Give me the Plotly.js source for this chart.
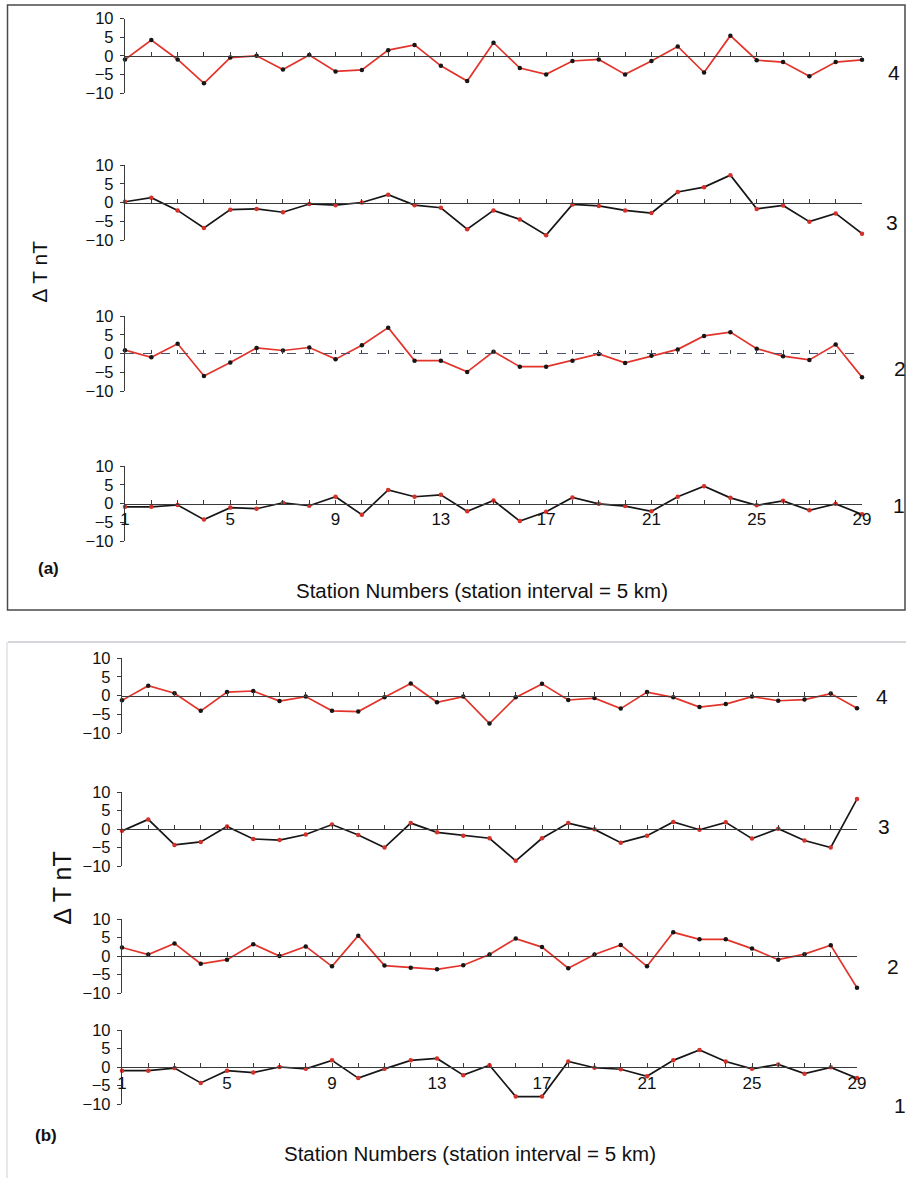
<!DOCTYPE html>
<html>
<head>
<meta charset="utf-8">
<script src="https://cdn.plot.ly/plotly-3.0.1.min.js"></script>
<style>
  html, body { margin: 0; padding: 0; background: #fff; }
  #chart { width: 906px; height: 1178px; }
</style>
</head>
<body>
<div id="chart"></div>
<script>
// Station numbers along each profile (station interval = 5 km)
const stations = [1,2,3,4,5,6,7,8,9,10,11,12,13,14,15,16,17,18,19,20,21,22,23,24,25,26,27,28,29];
const stationLabels = ['1','','','','5','','','','9','','','','13','','','','17','','','','21','','','','25','','','','29'];
const profileNames = ['4', '3', '2', '1'];
const yTicks = [-10, -5, 0, 5, 10];

// Panel (a): magnetic anomaly ΔT (nT) per profile
const a4 = [-1.0, 4.2, -1.0, -7.4, -0.5, 0.0, -3.7, 0.2, -4.2, -3.8, 1.5, 2.9, -2.7, -6.8, 3.5, -3.3, -5.0, -1.4, -1.0, -5.0, -1.4, 2.5, -4.5, 5.4, -1.2, -1.7, -5.5, -1.7, -1.1];
const a3 = [0.2, 1.3, -2.1, -6.8, -1.9, -1.7, -2.6, -0.4, -0.7, 0.0, 2.1, -0.7, -1.4, -7.1, -2.1, -4.5, -8.7, -0.5, -0.9, -2.1, -2.8, 2.8, 4.1, 7.3, -1.7, -0.8, -5.1, -2.9, -8.3];
const a2 = [0.9, -1.0, 2.6, -6.0, -2.4, 1.5, 0.8, 1.6, -1.5, 2.2, 6.9, -1.9, -1.9, -4.9, 0.5, -3.5, -3.5, -1.9, -0.1, -2.5, -0.6, 1.1, 4.7, 5.7, 1.3, -0.7, -1.7, 2.4, -6.3];
const a1 = [-0.9, -0.9, -0.4, -4.3, -1.1, -1.4, 0.2, -0.6, 1.8, -3.0, 3.6, 1.8, 2.3, -2.1, 0.8, -4.7, -2.2, 1.6, -0.1, -0.7, -2.1, 1.8, 4.6, 1.5, -0.5, 0.7, -1.8, -0.1, -2.9];

// Panel (b)
const b4 = [-1.3, 2.6, 0.6, -4.1, 0.9, 1.2, -1.5, -0.3, -4.1, -4.3, -0.5, 3.2, -1.8, -0.3, -7.5, -0.5, 3.1, -1.2, -0.7, -3.5, 0.9, -0.5, -3.1, -2.3, -0.3, -1.4, -1.1, 0.5, -3.4];
const b3 = [-0.5, 2.6, -4.3, -3.5, 0.7, -2.7, -3.0, -1.5, 1.2, -1.6, -5.0, 1.6, -0.9, -1.8, -2.5, -8.6, -2.5, 1.6, -0.1, -3.7, -1.8, 1.9, -0.2, 1.8, -2.6, 0.1, -3.1, -5.0, 8.1];
const b2 = [2.3, 0.4, 3.4, -2.1, -1.0, 3.2, 0.0, 2.6, -2.8, 5.5, -2.6, -3.2, -3.6, -2.5, 0.4, 4.7, 2.4, -3.3, 0.4, 3.0, -2.8, 6.4, 4.5, 4.5, 2.0, -1.0, 0.5, 2.9, -8.6];
const b1 = [-1.0, -1.0, -0.3, -4.3, -1.0, -1.5, 0.0, -0.5, 1.8, -3.0, -0.5, 1.8, 2.3, -2.2, 0.5, -8.0, -8.0, 1.5, -0.2, -0.6, -2.5, 1.8, 4.6, 1.5, -0.5, 0.7, -1.8, -0.1, -3.0];

const W = 906, H = 1178;
const fx = px => px / W;
const fy = py => 1 - py / H;

const RED = '#e2342b';
const DARK = '#161616';
const AXIS = '#3a3a3a';
const FONT = 'Liberation Sans, Arial, sans-serif';

// Styles alternate: red line + black dots, black line + red dots
const redLine = { line: RED, marker: DARK };
const blackLine = { line: DARK, marker: '#d3312a' };

// Plot rows: vertical pixel span of the -10..10 range, horizontal span of stations 1..29
const rows = [
  { data: a4, style: redLine,   top: 18.5, bottom: 93,   left: 125, right: 862, label: profileNames[0], lx: 894, ly: 73 },
  { data: a3, style: blackLine, top: 165,  bottom: 240,  left: 125, right: 862, label: profileNames[1], lx: 892, ly: 222 },
  { data: a2, style: redLine,   top: 316,  bottom: 391,  left: 125, right: 862, label: profileNames[2], lx: 900, ly: 368, dashedBase: true },
  { data: a1, style: blackLine, top: 466,  bottom: 541,  left: 125, right: 862, label: profileNames[3], lx: 899, ly: 505, labels: true },
  { data: b4, style: redLine,   top: 658,  bottom: 733,  left: 122, right: 857, label: profileNames[0], lx: 882, ly: 696 },
  { data: b3, style: blackLine, top: 792,  bottom: 866,  left: 122, right: 857, label: profileNames[1], lx: 884, ly: 826 },
  { data: b2, style: redLine,   top: 919,  bottom: 993,  left: 122, right: 857, label: profileNames[2], lx: 893, ly: 966 },
  { data: b1, style: blackLine, top: 1030, bottom: 1104, left: 122, right: 857, label: profileNames[3], lx: 900, ly: 1105, labels: true }
];

const traces = [];
const layout = {
  width: W, height: H,
  autosize: false,
  margin: { l: 0, r: 0, t: 0, b: 0, pad: 0 },
  paper_bgcolor: '#ffffff',
  plot_bgcolor: 'rgba(0,0,0,0)',
  showlegend: false,
  font: { family: FONT, color: '#111' },
  shapes: [],
  annotations: []
};

rows.forEach((r, i) => {
  const n = i + 1;
  const xa = n === 1 ? 'x' : 'x' + n;
  const ya = n === 1 ? 'y' : 'y' + n;
  const yDom = [fy(r.bottom), fy(r.top)];

  traces.push({
    type: 'scatter', mode: 'lines+markers',
    x: stations, y: r.data,
    xaxis: xa, yaxis: ya,
    cliponaxis: false,
    line: { color: r.style.line, width: 1.7 },
    marker: { color: r.style.marker, size: 4.5 },
    hoverinfo: 'x+y'
  });

  layout['xaxis' + (n === 1 ? '' : n)] = {
    domain: [fx(r.left), fx(r.right)],
    range: [1, 29],
    anchor: 'free',
    position: (yDom[0] + yDom[1]) / 2,
    showgrid: false, zeroline: false,
    showline: !r.dashedBase,
    linecolor: AXIS, linewidth: 1.2,
    ticks: 'inside', ticklen: 4, tickwidth: 1, tickcolor: AXIS,
    tickmode: 'array', tickvals: stations, ticktext: stationLabels,
    showticklabels: !!r.labels,
    tickfont: { size: 17, family: FONT, color: '#111' }
  };

  layout['yaxis' + (n === 1 ? '' : n)] = {
    domain: yDom,
    range: [-10, 10],
    anchor: xa,
    showgrid: false, zeroline: false,
    showline: true, linecolor: AXIS, linewidth: 1.2,
    ticks: 'outside', ticklen: 4, tickwidth: 1, tickcolor: AXIS,
    tickmode: 'array', tickvals: yTicks,
    ticklabelstandoff: 3,
    tickfont: { size: 16.5, family: FONT, color: '#111' }
  };

  if (r.dashedBase) {
    layout.shapes.push({
      type: 'line', xref: xa, yref: ya,
      x0: 1, x1: 29, y0: 0, y1: 0,
      line: { color: '#4a5270', width: 1.2, dash: 'dash' }
    });
  }

  layout.annotations.push({
    text: r.label, xref: 'paper', yref: 'paper',
    x: fx(r.lx), y: fy(r.ly), xanchor: 'center', yanchor: 'middle',
    showarrow: false, font: { size: 21, family: FONT, color: '#111' }
  });
});

// Panel frames
layout.shapes.push(
  { type: 'rect', xref: 'paper', yref: 'paper', x0: fx(7.5), x1: fx(905), y0: fy(610), y1: fy(5),
    line: { color: '#4a4a4a', width: 1.5 }, layer: 'below' },
  { type: 'line', xref: 'paper', yref: 'paper', x0: fx(8), x1: fx(906), y0: fy(642), y1: fy(642),
    line: { color: '#a9adb5', width: 1.2 } },
  { type: 'line', xref: 'paper', yref: 'paper', x0: fx(7), x1: fx(7), y0: fy(1178), y1: fy(642),
    line: { color: '#d6d8dc', width: 1.2 } }
);

// Panel letters, axis captions
const captions = [
  { text: '<b>(a)</b>', x: 48, y: 568, size: 17 },
  { text: '<b>(b)</b>', x: 46, y: 1135, size: 17 },
  { text: 'Station Numbers (station interval = 5 km)', x: 482, y: 590, size: 20.5 },
  { text: 'Station Numbers (station interval = 5 km)', x: 470, y: 1153, size: 20.5 }
];
captions.forEach(c => layout.annotations.push({
  text: c.text, xref: 'paper', yref: 'paper', x: fx(c.x), y: fy(c.y),
  xanchor: 'center', yanchor: 'middle', showarrow: false,
  font: { size: c.size, family: FONT, color: '#111' }
}));

[{ x: 40, y: 272, size: 21 }, { x: 62, y: 888, size: 25 }].forEach(t => layout.annotations.push({
  text: '\u2206 T nT', xref: 'paper', yref: 'paper', x: fx(t.x), y: fy(t.y),
  xanchor: 'center', yanchor: 'middle', textangle: -90, showarrow: false,
  font: { size: t.size, family: FONT, color: '#111' }
}));

Plotly.newPlot('chart', traces, layout, { staticPlot: true, displayModeBar: false });
</script>
</body>
</html>
